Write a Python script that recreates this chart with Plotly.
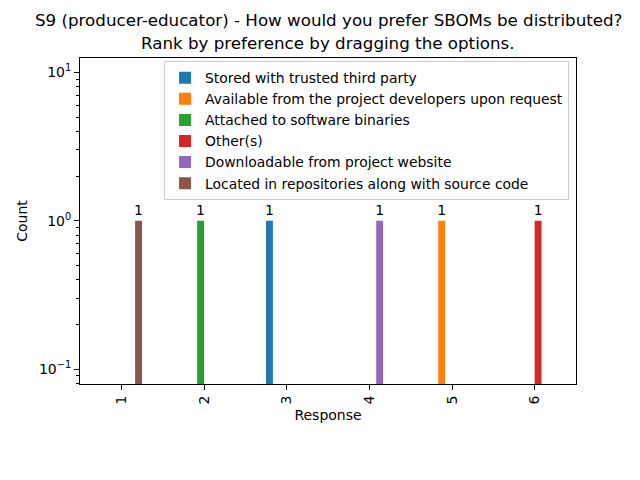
import plotly.graph_objects as go

categories = ["1", "2", "3", "4", "5", "6"]
series_names = [
    "Stored with trusted third party",
    "Available from the project developers upon request",
    "Attached to software binaries",
    "Other(s)",
    "Downloadable from project website",
    "Located in repositories along with source code",
]
stored = [0, 0, 1, 0, 0, 0]
available = [0, 0, 0, 0, 1, 0]
attached = [0, 1, 0, 0, 0, 0]
others = [0, 0, 0, 0, 0, 1]
downloadable = [0, 0, 0, 1, 0, 0]
located = [1, 0, 0, 0, 0, 0]
series_values = [stored, available, attached, others, downloadable, located]
colors = ["#1f77b4", "#ff7f0e", "#2ca02c", "#d62728", "#9467bd", "#8c564b"]
title_lines = [
    "S9 (producer-educator) - How would you prefer SBOMs be distributed?",
    "Rank by preference by dragging the options.",
]

FONT = "DejaVu Sans"
PLOT_H = 326

fig = go.Figure()
for name, vals, col in zip(series_names, series_values, colors):
    fig.add_trace(go.Bar(
        x=categories, y=vals, name=name, marker=dict(color=col, line=dict(width=0)),
        text=[str(v) if v else "" for v in vals], textposition="outside",
        constraintext="none",
        textfont=dict(family=FONT, size=14, color="black"), cliponaxis=False,
    ))

minor_vals = [0.08, 0.09] + [k * 0.1 for k in range(2, 10)] + list(range(2, 10))

title_ann = []
for i, line in enumerate(title_lines):
    # centers of title lines at ~20px and ~43px from the top; plot top at 58px
    centre = [20, 43][i]
    title_ann.append(dict(
        text=line, xref="paper", yref="paper", x=0.5, y=1 + (58 - centre) / PLOT_H,
        xanchor="center", yanchor="middle", showarrow=False,
        font=dict(family=FONT, size=16.7, color="black"),
    ))

fig.update_layout(
    width=632, height=472,
    margin=dict(l=72, r=64, t=50, b=96, autoexpand=False),
    paper_bgcolor="white", plot_bgcolor="white",
    font=dict(family=FONT, size=14, color="black"),
    barmode="group", bargap=0.5, bargroupgap=0,
    showlegend=True,
    legend=dict(
        x=0.986, xanchor="right", y=0.99, yanchor="top",
        bgcolor="rgba(255,255,255,0.8)", bordercolor="#cccccc", borderwidth=1,
        font=dict(family=FONT, size=13.9, color="black"),
        itemwidth=30, tracegroupgap=0,
    ),
    annotations=title_ann,
)

fig.update_xaxes(
    type="category", categoryorder="array", categoryarray=categories,
    showline=True, linecolor="black", linewidth=1, mirror=True,
    ticks="outside", ticklen=5, tickcolor="black", tickangle=-90,
    showgrid=False, zeroline=False, automargin=False,
    title=dict(text="Response", font=dict(family=FONT, size=14), standoff=6),
    tickfont=dict(family=FONT, size=14),
)
fig.update_yaxes(
    type="log", range=[-1.101, 1.097],
    showline=True, linecolor="black", linewidth=1, mirror=True,
    ticks="outside", ticklen=5, tickcolor="black",
    tickmode="array", tickvals=[0.1, 1, 10],
    ticktext=["10<sup>−1</sup>", "10<sup>0</sup>", "10<sup>1</sup>"],
    minor=dict(tickmode="array", tickvals=minor_vals, ticks="outside", ticklen=3, tickcolor="black", showgrid=False),
    showgrid=False, zeroline=False, automargin=False,
    title=dict(text="Count", font=dict(family=FONT, size=14), standoff=8),
    tickfont=dict(family=FONT, size=14),
)

fig.write_html("out.html")
